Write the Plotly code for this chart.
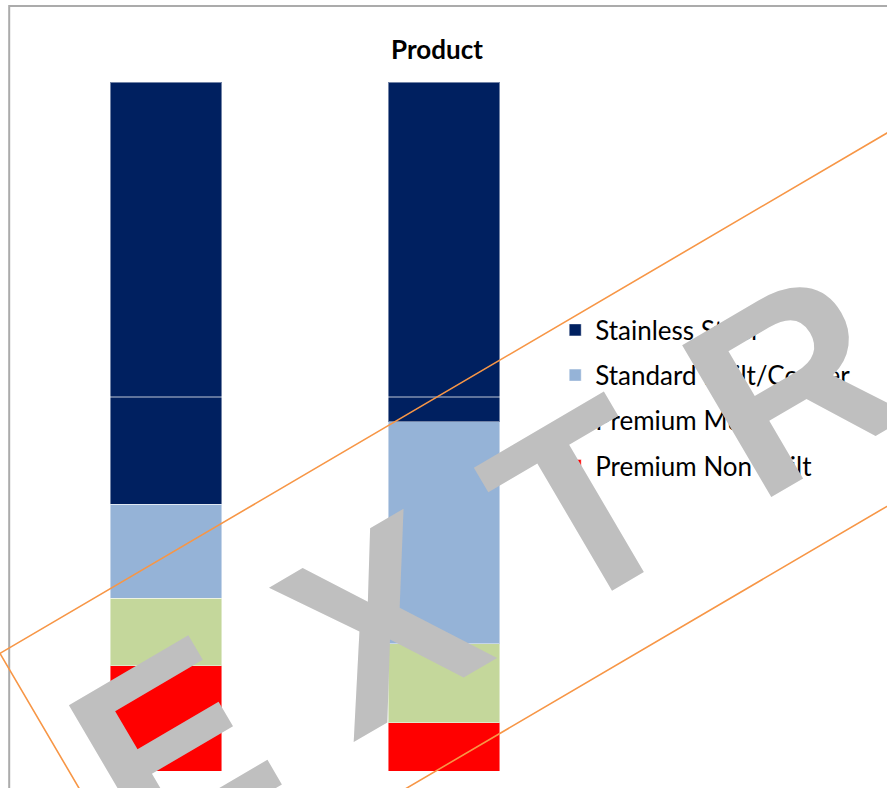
import numpy as np
import plotly.graph_objects as go

# ---------------- data ----------------
categories = ["Product 1", "Product 2"]
series_names = ["Premium Non Built", "Premium Multi", "Standard Built/Cooker", "Stainless Steel"]
premium_non_built = [0.153, 0.070]
premium_multi = [0.098, 0.115]
standard_built_cooker = [0.136, 0.322]
stainless_steel = [0.613, 0.493]
series_values = [premium_non_built, premium_multi, standard_built_cooker, stainless_steel]
series_colors = ["#FF0000", "#C4D79B", "#95B3D7", "#002060"]
legend_ranks = [4, 3, 2, 1]

chart_title = "Product"
watermark_text = "E X T R A C T"

# ---------------- geometry helpers ----------------
W, H = 887, 788
ML, MR, MT, MB = 26.8, 304.2, 82, 17
PW = W - ML - MR
PH = H - MT - MB


def px2paper(x, y):
    return (x - ML) / PW, (H - MB - y) / PH


fig = go.Figure()
for name, vals, col, rk in zip(series_names, series_values, series_colors, legend_ranks):
    fig.add_trace(go.Bar(
        x=categories, y=vals, name=name, legendgroup=name, legendrank=rk,
        marker=dict(color=col, line=dict(color="rgba(255,255,255,0.45)", width=1)),
        hoverinfo="skip",
    ))

# watermark geometry (pixels)
theta = np.deg2rad(30.4)
d = np.array([np.cos(theta), -np.sin(theta)])
u = np.array([-np.sin(theta), -np.cos(theta)])
frame_center = np.array([801.0, 370.0])
half_w, half_h = 834.5, 161.0
corners = [frame_center - half_w * d + half_h * u,
           frame_center + half_w * d + half_h * u,
           frame_center + half_w * d - half_h * u,
           frame_center - half_w * d - half_h * u]
path = "M " + " L ".join("{:.5f},{:.5f}".format(*px2paper(*c)) for c in corners) + " Z"
text_center = np.array([795.0, 380.0])

shapes = [
    # chart border
    dict(type="path", xref="paper", yref="paper",
         path="M {:.5f},{:.5f} L {:.5f},{:.5f} L {:.5f},{:.5f}".format(
             *px2paper(9, 820), *px2paper(9, 6), *px2paper(900, 6)),
         line=dict(color="#ABABAB", width=2), layer="above"),
    # light line across the bars
    dict(type="line", xref="paper", yref="paper",
         x0=px2paper(26.8, 397)[0], x1=px2paper(582, 397)[0],
         y0=px2paper(0, 397)[1], y1=px2paper(0, 397)[1],
         line=dict(color="rgba(255,255,255,0.75)", width=1), layer="above"),
    # orange rotated frame
    dict(type="path", xref="paper", yref="paper", path=path,
         line=dict(color="#F79646", width=1.6), layer="above"),
]

ax, ay = px2paper(*text_center)
fig.add_annotation(
    x=ax, y=ay, xref="paper", yref="paper", text=watermark_text,
    showarrow=False, textangle=-30.4, xanchor="center", yanchor="middle",
    font=dict(family="Liberation Sans", size=256, color="#BFBFBF", weight="bold"),
)

lx, ly = px2paper(555, 306.5)
fig.update_layout(
    width=W, height=H,
    margin=dict(l=ML, r=MR, t=MT, b=MB, autoexpand=False),
    paper_bgcolor="white", plot_bgcolor="white",
    barmode="stack", bargap=0.6,
    title=dict(text=chart_title, x=437 / W, xref="container", xanchor="center",
               y=1 - 50 / H, yref="container", yanchor="middle",
               font=dict(family="Lato", size=26, color="#000000", weight="bold")),
    xaxis=dict(visible=False),
    yaxis=dict(visible=False, range=[0, 1]),
    showlegend=True,
    legend=dict(x=lx, y=ly, xanchor="left", yanchor="top",
                traceorder="grouped", tracegroupgap=8.4,
                bgcolor="rgba(0,0,0,0)",
                font=dict(family="Lato", size=26, color="#000000")),
    shapes=shapes,
)

fig.write_html("out.html", config={"displayModeBar": False},
               post_script="document.body.style.margin='0';")
